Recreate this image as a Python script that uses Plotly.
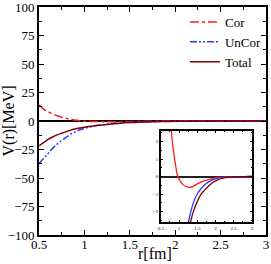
import plotly.graph_objects as go

r = [0.5, 0.55, 0.6, 0.65, 0.7, 0.75, 0.8, 0.85, 0.9, 0.95, 1.0, 1.1, 1.2, 1.3, 1.4,
     1.5, 1.6, 1.7, 1.8, 1.9, 2.0, 2.2, 2.4, 2.6, 2.8, 3.0]
cor = [14.0, 10.5, 8.2, 6.2, 4.6, 3.3, 2.3, 1.4, 0.7, 0.1, -0.15, -0.45, -0.58, -0.62, -0.55,
       -0.42, -0.32, -0.24, -0.18, -0.12, -0.08, -0.04, -0.02, -0.01, -0.004, 0.0]
uncor = [-37.4, -33.0, -28.5, -24.0, -20.3, -17.0, -14.2, -11.6, -9.5, -7.7, -6.4, -4.6, -3.3, -2.2, -1.45,
         -1.0, -0.7, -0.48, -0.32, -0.21, -0.14, -0.05, -0.02, -0.008, -0.003, 0.0]
total = [-21.9, -19.0, -16.2, -14.0, -12.2, -10.7, -9.3, -8.0, -7.0, -6.1, -5.4, -4.3, -3.5, -2.7, -1.95,
         -1.42, -1.02, -0.78, -0.57, -0.38, -0.25, -0.09, -0.035, -0.012, -0.004, 0.0]

names = ["Cor", "UnCor", "Total"]
colors = ["#ff1a1a", "#2a3cff", "#800000"]
dashes = ["dashdot", "7px,2px,2px,2px,2px,2px", "solid"]
series = [cor, uncor, total]

x_ticks = [0.5, 1, 1.5, 2, 2.5, 3]
x_labels = ["0.5", "1", "1.5", "2", "2.5", "3"]
y_ticks = [-100, -75, -50, -25, 0, 25, 50, 75, 100]
inset_y_ticks = [-2, -1, 0, 1, 2]

SERIF = "Times New Roman, Liberation Serif, serif"

fig = go.Figure()
for n, c, d, s in zip(names, colors, dashes, series):
    fig.add_trace(go.Scatter(x=r, y=s, name=n, mode="lines", line_shape="spline",
                             line=dict(color=c, width=1.5, dash=d), xaxis="x", yaxis="y"))
for n, c, s in zip(names, colors, series):
    fig.add_trace(go.Scatter(x=r, y=s, name=n, mode="lines", line_shape="spline", showlegend=False,
                             line=dict(color=c, width=1.3), xaxis="x2", yaxis="y2"))

axis_common = dict(showgrid=False, showline=True, linecolor="black", mirror="ticks",
                   ticks="inside", tickcolor="black", automargin=False, ticklabeloverflow="allow")

fig.update_layout(
    width=271, height=264,
    margin=dict(l=39, r=5, t=7, b=29, autoexpand=False),
    paper_bgcolor="white", plot_bgcolor="white",
    font=dict(family=SERIF, color="black"),
    showlegend=True,
    legend=dict(x=0.643, y=1.0, xanchor="left", yanchor="top", bgcolor="rgba(0,0,0,0)",
                font=dict(family=SERIF, size=13), tracegroupgap=0, itemwidth=30),
    xaxis=dict(range=[0.5, 3], tickvals=x_ticks, ticktext=x_labels, ticklen=5, tickwidth=1.3,
               linewidth=1.8, tickfont=dict(family=SERIF, size=13), zeroline=False, ticklabelstandoff=-4,
               minor=dict(dtick=0.25, ticklen=3, ticks="inside", tickcolor="black"),
               **axis_common),
    yaxis=dict(range=[-100, 100], tickvals=y_ticks, ticklen=5, tickwidth=1.3,
               linewidth=1.8, tickfont=dict(family=SERIF, size=13),
               zeroline=True, zerolinecolor="black", zerolinewidth=1.5,
               minor=dict(dtick=12.5, ticklen=3, ticks="inside", tickcolor="black"),
               **axis_common),
    xaxis2=dict(domain=[0.537, 0.938], anchor="y2", range=[0.5, 3], tickvals=x_ticks, ticktext=x_labels,
                ticklen=2, linewidth=1.5, tickfont=dict(family=SERIF, size=5), zeroline=False,
                minor=dict(dtick=0.25, ticklen=1, ticks="inside", tickcolor="black"), **axis_common),
    yaxis2=dict(domain=[0.057, 0.456], anchor="x2", range=[-2.6, 2.6], tickvals=inset_y_ticks,
                ticklen=2, linewidth=1.5, tickfont=dict(family=SERIF, size=5),
                zeroline=True, zerolinecolor="#222222", zerolinewidth=2.2,
                minor=dict(dtick=0.5, ticklen=1, ticks="inside", tickcolor="black"), **axis_common),
    annotations=[
        dict(text="r[fm]", xref="paper", yref="paper", x=0.51, y=-0.083, xanchor="center", yanchor="middle",
             showarrow=False, font=dict(family=SERIF, size=16)),
        dict(text="V(r)[MeV]", xref="paper", yref="paper", x=-0.13, y=0.5, xanchor="center", yanchor="middle",
             textangle=-90, showarrow=False, font=dict(family=SERIF, size=16)),
    ],
)

fig.write_html("out.html", config={"displayModeBar": False},
               post_script="document.body.style.margin='0';document.body.style.overflow='hidden';")
